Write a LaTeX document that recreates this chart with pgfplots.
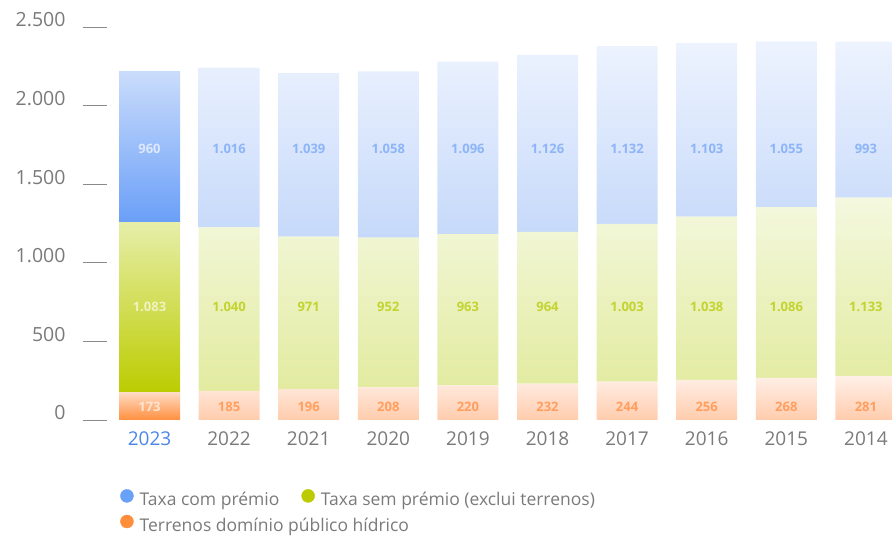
\documentclass[border=0pt]{standalone}
\usepackage{pgfplots}
\pgfplotsset{compat=1.18}
\usepackage{pgfplotstable}
\usepackage{fontspec}
\setmainfont{Open Sans}
% 2023 (highlighted)
\definecolor{bT}{HTML}{CADCFB}\definecolor{bB}{HTML}{6A9FF8}
\definecolor{gT}{HTML}{E6EEA8}\definecolor{gB}{HTML}{BCCC00}
\definecolor{oT}{HTML}{FFDAC2}\definecolor{oB}{HTML}{FF8F3F}
% other years (light)
\definecolor{bt}{HTML}{EDF3FE}\definecolor{bb}{HTML}{C6D9FA}
\definecolor{gt}{HTML}{F4F8DF}\definecolor{gb}{HTML}{E2EB9F}
\definecolor{ot}{HTML}{FFF0E8}\definecolor{ob}{HTML}{FFCCAD}
% labels
\definecolor{lb}{HTML}{8DB5F7}\definecolor{lg}{HTML}{C3D32F}\definecolor{lo}{HTML}{FF9E5E}
\definecolor{Lb}{HTML}{DCE8FD}\definecolor{Lg}{HTML}{EEF3C0}\definecolor{Lo}{HTML}{FFE5D3}
\definecolor{legB}{HTML}{6AA1F8}\definecolor{legG}{HTML}{BCCB00}\definecolor{legO}{HTML}{FF8E3C}
\definecolor{txtgray}{HTML}{7A7A7A}\definecolor{tickgray}{HTML}{8A8A8A}
\definecolor{yr}{HTML}{4A86E8}

\pgfplotstableread{
x blue green orange
0 960 1083 173
}\dataA
\pgfplotstableread{
x blue green orange
1 1016 1040 185
2 1039 971 196
3 1058 952 208
4 1096 963 220
5 1126 964 232
6 1132 1003 244
7 1103 1038 256
8 1055 1086 268
9 993 1133 281
}\dataB

\pgfplotsset{
  base/.style={scale only axis, width=785pt, height=393pt,
    xmin=-0.534, xmax=9.328, ymin=0, ymax=2500},
  legbase/.style={draw=none, fill=none, font=\fontsize{17.5}{20}\selectfont, text=txtgray,
    /tikz/every even column/.append style={column sep=20pt}},
}

\begin{document}
\begin{tikzpicture}
\begin{axis}[base, name=main, ybar stacked, bar width=61pt,
  axis line style={draw=none},
  ytick={0,500,1000,1500,2000,2500}, ytick pos=left, tick align=outside,
  major tick length=24pt,
  ytick style={draw=tickgray, line width=0.8pt},
  xtick={0,1,2,3,4,5,6,7,8,9}, xtick pos=bottom, xtick style={draw=none},
  xticklabels={{\color{yr}2023},2022,2021,2020,2019,2018,2017,2016,2015,2014},
  xticklabel style={font=\fontsize{19}{22}\selectfont, text=txtgray, yshift=16pt},
  yticklabel style={font=\fontsize{19.5}{22}\selectfont, text=txtgray, anchor=base east, xshift=-14pt},
  legend style={legbase, at={(axis description cs:0.0128,-0.1705)}, anchor=north west},
  legend columns=2, legend cell align=left,
  /pgf/number format/1000 sep={.}, /pgf/number format/assume math mode=true,
]
\addlegendimage{legend image code/.code={\fill[legB] (6.5pt,0.36em) circle (6.5pt); \path (17pt,0.36em);}}
\addlegendentry{Taxa com prémio}
\addlegendimage{legend image code/.code={\fill[legG] (6.5pt,0.36em) circle (6.5pt); \path (17pt,0.36em);}}
\addlegendentry{Taxa sem prémio (exclui terrenos)}
\addplot[forget plot, draw=none, top color=ot, bottom color=ob] table[x=x, y=orange] {\dataB};
\addplot[forget plot, draw=none, top color=gt, bottom color=gb] table[x=x, y=green] {\dataB};
\addplot[forget plot, draw=none, top color=bt, bottom color=bb] table[x=x, y=blue] {\dataB};
\end{axis}

\begin{axis}[base, hide axis, ybar stacked, bar width=61pt,
  legend style={legbase, at={(axis description cs:0.0128,-0.2356)}, anchor=north west},
  legend cell align=left]
\addlegendimage{legend image code/.code={\fill[legO] (6.5pt,0.36em) circle (6.5pt); \path (17pt,0.36em);}}
\addlegendentry{Terrenos domínio público hídrico}
\addplot[forget plot, draw=none, top color=oT, bottom color=oB] table[x=x, y=orange] {\dataA};
\addplot[forget plot, draw=none, top color=gT, bottom color=gB] table[x=x, y=green] {\dataA};
\addplot[forget plot, draw=none, top color=bT, bottom color=bB] table[x=x, y=blue] {\dataA};
\end{axis}

\begin{axis}[base, hide axis, nodes near coords, nodes near coords align={center},
  every node near coord/.append style={font=\bfseries\fontsize{13}{15}\selectfont},
  /pgf/number format/1000 sep={.}, /pgf/number format/assume math mode=true]
\addplot[draw=none, point meta=explicit, every node near coord/.append style={text=lb}] table[x=x, y expr=1724, meta=blue] {\dataB};
\addplot[draw=none, point meta=explicit, every node near coord/.append style={text=lg}] table[x=x, y expr=719, meta=green] {\dataB};
\addplot[draw=none, point meta=explicit, every node near coord/.append style={text=lo}] table[x=x, y expr=83, meta=orange] {\dataB};
\addplot[draw=none, point meta=explicit, every node near coord/.append style={text=Lb}] table[x=x, y expr=1724, meta=blue] {\dataA};
\addplot[draw=none, point meta=explicit, every node near coord/.append style={text=Lg}] table[x=x, y expr=719, meta=green] {\dataA};
\addplot[draw=none, point meta=explicit, every node near coord/.append style={text=Lo}] table[x=x, y expr=83, meta=orange] {\dataA};
\end{axis}

\pgfresetboundingbox
\path[use as bounding box] ([xshift=-107pt,yshift=-117pt]main.south west) rectangle ([yshift=27pt]main.north east);
\end{tikzpicture}
\end{document}
